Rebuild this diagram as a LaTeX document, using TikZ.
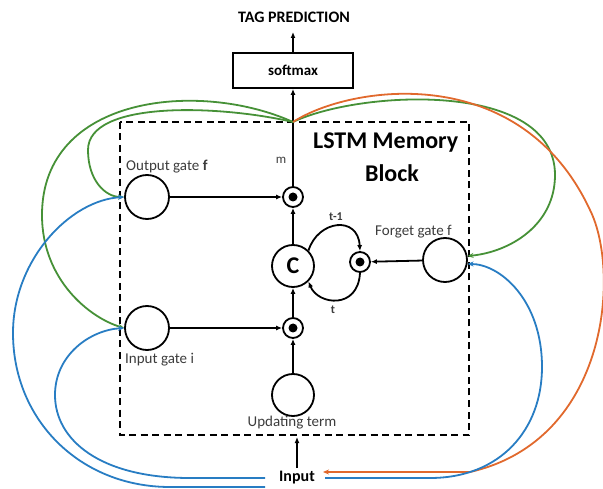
\documentclass[tikz,border=0pt]{standalone}
\usepackage{fontspec}
\setmainfont{Carlito}
\usetikzlibrary{arrows.meta}
\definecolor{ggreen}{RGB}{70,145,55}
\definecolor{gblue}{RGB}{40,125,195}
\definecolor{gorange}{RGB}{225,105,45}
\definecolor{lbl}{RGB}{60,60,60}
\begin{document}
\begin{tikzpicture}[x=1pt,y=-1pt,
  gate/.style={circle,draw,line width=1.8pt,minimum size=44pt,inner sep=0pt},
  mult/.style={circle,draw,line width=1.8pt,minimum size=20pt,inner sep=0pt},
  wire/.style={line width=1.8pt,-{Latex[length=6pt,width=5pt]}},
  fb/.style={line width=1.8pt,-{Stealth[length=6pt,width=5pt]}},
  lab/.style={text=lbl,font=\fontsize{15}{15}\selectfont,inner sep=0pt},
  big/.style={font=\bfseries\fontsize{24}{24}\selectfont,inner sep=0pt}
]
\useasboundingbox (0,0) rectangle (603,489);

% dashed memory block
\draw[line width=2.2pt,dash pattern=on 7pt off 4.5pt] (120,122) rectangle (469,435);

% nodes
\node[draw,line width=1.8pt,minimum width=120pt,minimum height=35pt,font=\bfseries\fontsize{15}{15}\selectfont] (sm) at (293,70.5) {softmax};
\node[font=\bfseries\fontsize{16}{16}\selectfont] (tag) at (294,17) {TAG PREDICTION};
\coordinate (tagtip) at (293,32);
\coordinate (J) at (293,122);

\node[mult] (om) at (293,197) {};
\node[gate] (og) at (147,197) {};
\node[gate,minimum size=42pt,font=\bfseries\fontsize{24}{24}\selectfont] (C) at (293,266) {C};
\node[mult] (fm) at (360,262) {};
\node[gate] (fg) at (445,260) {};
\node[mult] (im) at (293,328) {};
\node[gate] (ig) at (147,328) {};
\node[gate,minimum size=42pt] (ut) at (293,395) {};
\node[font=\bfseries\fontsize{16}{16}\selectfont] (inp) at (297,478) {Input};
\coordinate (inbox) at (297,437);
\coordinate (bl1) at (265,478);
\coordinate (bl2) at (265,487);
\coordinate (br) at (325,478);
\coordinate (orend) at (323,472);

\fill (om) circle (4.5);
\fill (fm) circle (4.5);
\fill (im) circle (4.5);

% labels
\node[lab,anchor=west] (ogl) at (126,167) {Output gate \textbf{f}};
\node[lab,anchor=west] (fgl) at (375,232) {Forget gate f};
\node[lab,anchor=west] (igl) at (125,360) {Input gate i};
\node[lab] (utl) at (292,423) {Updating term};
\node[lab,font=\fontsize{13}{13}\selectfont] (ml) at (281,160) {m};
\node[font=\bfseries\fontsize{12}{12}\selectfont,text=lbl,inner sep=0pt] (t1) at (336,217) {t-1};
\node[font=\bfseries\fontsize{12}{12}\selectfont,text=lbl,inner sep=0pt] (t0) at (333,310) {t};
\node[big,anchor=west] (lstm) at (313,143) {LSTM Memory};
\node[big] (blk) at (392,173) {Block};

% black wires
\draw[wire] (om) -- (sm);
\draw[wire] (sm) -- (tagtip);
\draw[wire] (og) -- (om);
\draw[wire] (C) -- (om);
\draw[wire] (im) -- (C);
\draw[wire] (ut) -- (im);
\draw[wire] (ig) -- (im);
\draw[wire] (fg) -- (fm);
\draw[wire] (C.45) .. controls (318,220) and (358,215) .. (fm.north);
\draw[wire] (fm.south) .. controls (358,310) and (318,305) .. (C.-45);
\draw[wire] (inp.north) -- (inbox);

% green feedback
\draw[fb,ggreen] (J) .. controls (220,105) and (88,100) .. (88,150) .. controls (88,180) and (105,197) .. (og.west);
\draw[fb,ggreen] (J) .. controls (200,80) and (42,95) .. (42,215) .. controls (42,280) and (90,318) .. (ig.west);
\draw[fb,ggreen] (J) .. controls (360,90) and (555,80) .. (555,175) .. controls (555,225) and (510,252) .. (fg.10);

% orange
\draw[fb,gorange] (J) .. controls (350,85) and (520,60) .. (590,210) .. controls (620,270) and (610,440) .. (470,472) -- (orend);

% blue
\draw[fb,gblue] (bl2) -- (170,487) .. controls (80,487) and (13,420) .. (13,333) .. controls (13,260) and (70,200) .. (og.west);
\draw[fb,gblue] (bl1) -- (190,478) .. controls (100,478) and (55,440) .. (55,395) .. controls (55,355) and (90,330) .. (ig.west);
\draw[fb,gblue] (br) -- (430,478) .. controls (500,478) and (542,430) .. (542,367) .. controls (542,300) and (500,264) .. (fg.-10);
\end{tikzpicture}
\end{document}
